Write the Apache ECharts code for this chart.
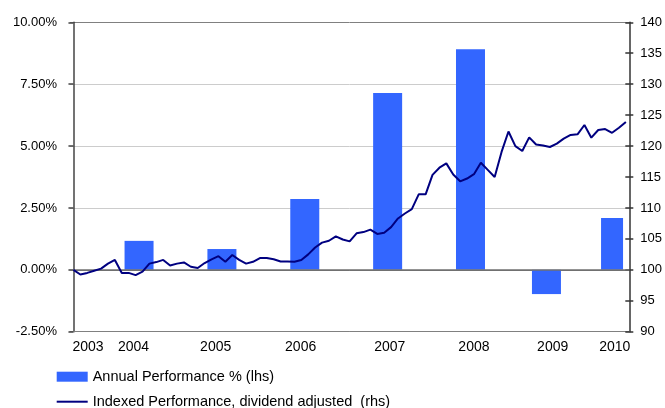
<!DOCTYPE html>
<html><head><meta charset="utf-8">
<script src="https://cdn.jsdelivr.net/npm/echarts@6/dist/echarts.min.js"></script>
<style>html,body{margin:0;padding:0;background:#fff}#c{width:665px;height:408px}</style>
</head><body><div id="c"></div>
<script>
// x-axis year labels and their positions on the monthly index scale
const yearLabels = ['2003', '2004', '2005', '2006', '2007', '2008', '2009', '2010'];
const yearLabelPos = [2.1, 8.7, 20.6, 32.9, 45.8, 58.0, 69.4, 78.4];

// Annual performance bars (lhs, %)
const barYears = ['2004', '2005', '2006', '2007', '2008', '2009', '2010'];
const barPos = [9.5, 21.5, 33.5, 45.5, 57.5, 68.5, 78.0];
const barValues = [1.17, 0.84, 2.86, 7.14, 8.91, -0.98, 2.09];

// Indexed performance, dividend adjusted (rhs), monthly
const indexValues = [
  100.0, 99.25, 99.5, 99.85, 100.2, 101.0, 101.6, 99.5, 99.5, 99.15,
  99.7, 101.0, 101.25, 101.6, 100.7, 101.0, 101.2, 100.5, 100.3, 101.1,
  101.7, 102.2, 101.3, 102.4, 101.6, 101.0, 101.3, 101.9, 101.9, 101.7,
  101.35, 101.35, 101.3, 101.6, 102.5, 103.6, 104.4, 104.7, 105.4, 104.9,
  104.6, 105.9, 106.1, 106.5, 105.8, 106.0, 106.9, 108.3, 109.1, 109.8,
  112.2, 112.2, 115.35, 116.5, 117.2, 115.4, 114.3, 114.75, 115.45, 117.3,
  116.15, 115.0, 119.05, 122.35, 119.98, 119.2, 121.4, 120.25, 120.1, 119.85,
  120.4, 121.2, 121.8, 121.9, 123.4, 121.35, 122.6, 122.75, 122.15, 122.95,
  123.9
];

const seriesNames = ['Annual Performance % (lhs)', 'Indexed Performance, dividend adjusted  (rhs)'];

const chart = echarts.init(document.getElementById('c'), null, {renderer: 'canvas'});
const font = '"Liberation Sans", Arial, sans-serif';
const legendText = {fontFamily: font, fontSize: 14.5, lineHeight: 16, color: '#000'};

chart.setOption({
  animation: false,
  backgroundColor: '#ffffff',
  grid: {left: 70, right: 32.5, top: 22.3, bottom: 76.3, containLabel: false},
  legend: [
    {
      orient: 'vertical', left: 56.7, top: 368.7, padding: 0,
      itemWidth: 31, itemHeight: 10,
      textStyle: legendText,
      data: [{name: seriesNames[0], icon: 'rect'}]
    },
    {
      orient: 'vertical', left: 56.7, top: 393.7, padding: 0,
      itemWidth: 31, itemHeight: 2,
      textStyle: legendText,
      data: [{name: seriesNames[1], icon: 'rect'}]
    }
  ],
  xAxis: {
    type: 'value',
    min: -0.5,
    max: 80.5,
    axisLine: {onZero: false, lineStyle: {color: '#808080', width: 1}},
    axisTick: {show: false},
    splitLine: {show: false},
    axisLabel: {
      customValues: yearLabelPos,
      margin: 8,
      fontFamily: font,
      fontSize: 14,
      color: '#000',
      formatter: function (v) {
        let best = 0;
        for (let i = 0; i < yearLabelPos.length; i++) {
          if (Math.abs(yearLabelPos[i] - v) < Math.abs(yearLabelPos[best] - v)) best = i;
        }
        return yearLabels[best];
      }
    }
  },
  yAxis: [
    {
      type: 'value',
      min: -2.5, max: 10, interval: 2.5,
      axisLine: {show: true, lineStyle: {color: '#444', width: 1.5}},
      axisTick: {show: true, length: 5, lineStyle: {color: '#444', width: 1.5}},
      axisLabel: {margin: 13, fontFamily: font, fontSize: 13, color: '#000',
        formatter: function (v) { return v.toFixed(2) + '%'; }},
      splitLine: {show: true, lineStyle: {color: ['#808080', '#707070', '#cccccc', '#cccccc', '#cccccc', '#808080'], width: 1}}
    },
    {
      type: 'value',
      position: 'right',
      min: 90, max: 140, interval: 5,
      axisLine: {show: true, lineStyle: {color: '#333', width: 1.5}},
      axisTick: {show: true, length: 4, lineStyle: {color: '#333', width: 1.5}},
      axisLabel: {margin: 11, fontFamily: font, fontSize: 13, color: '#000'},
      splitLine: {show: false}
    },
    {
      type: 'value',
      position: 'right',
      min: 90, max: 140, interval: 5,
      axisLine: {show: false},
      axisTick: {show: true, inside: true, length: 4, lineStyle: {color: '#333', width: 1.5}},
      axisLabel: {show: false},
      splitLine: {show: false}
    }
  ],
  series: [
    {
      name: seriesNames[0],
      type: 'custom',
      xAxisIndex: 0,
      yAxisIndex: 0,
      z: 2,
      itemStyle: {color: '#3366ff'},
      data: barPos.map(function (p, i) { return [p, barValues[i], barYears[i]]; }),
      encode: {x: 0, y: 1},
      renderItem: function (params, api) {
        const x = api.value(0), v = api.value(1);
        const p0 = api.coord([x, 0]);
        const p1 = api.coord([x, v]);
        const w = params.dataIndex === barValues.length - 1 ? 22 : 29;
        return {
          type: 'rect',
          shape: {x: p0[0] - w / 2, y: Math.min(p0[1], p1[1]), width: w, height: Math.abs(p1[1] - p0[1])},
          style: {fill: '#3366ff'}
        };
      },
      markLine: {
        silent: true,
        symbol: 'none',
        label: {show: false},
        lineStyle: {color: '#707070', width: 1.5, type: 'solid'},
        data: [{yAxis: 0}]
      }
    },
    {
      name: seriesNames[1],
      type: 'line',
      xAxisIndex: 0,
      yAxisIndex: 1,
      z: 5,
      symbol: 'none',
      lineStyle: {color: '#000080', width: 2},
      itemStyle: {color: '#000080'},
      data: indexValues.map(function (v, i) { return [i, v]; })
    }
  ]
});
</script>
</body></html>
